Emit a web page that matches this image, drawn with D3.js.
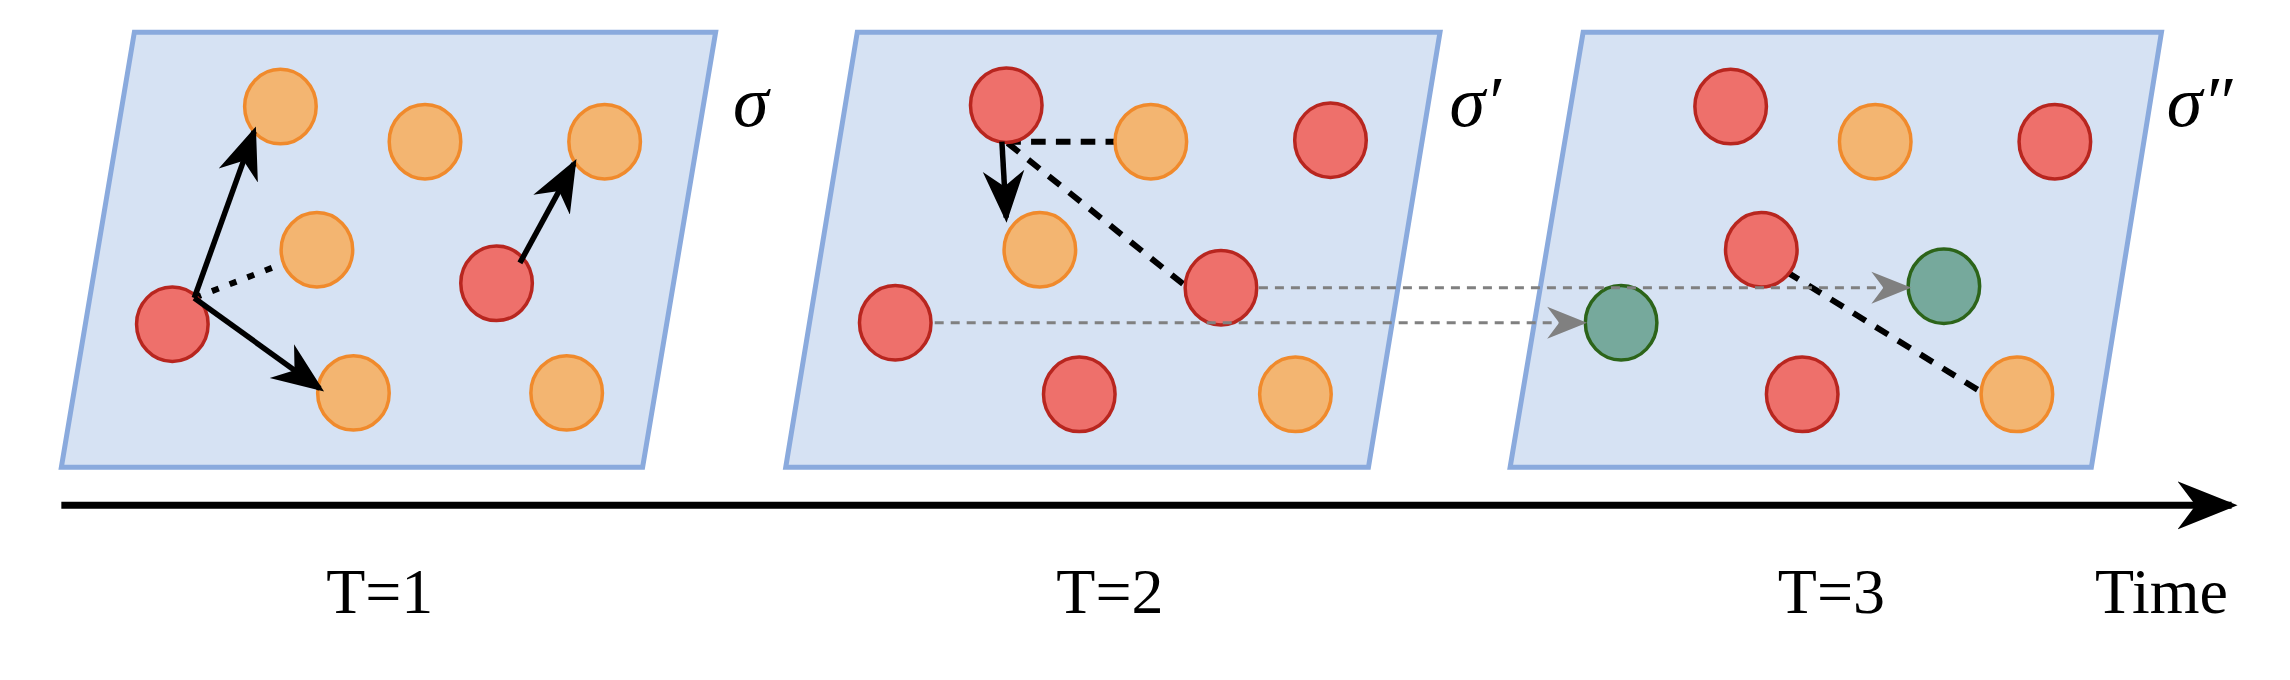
<!DOCTYPE html>
<html><head><meta charset="utf-8">
<script src="https://cdn.jsdelivr.net/npm/d3@7"></script>
<style>body{margin:0;background:#fff}</style></head>
<body><svg id="c" width="2290" height="680"></svg>
<script>
// coordinates in reference units (1568 x 466 space)
const panels = [
  [[92,22],[490,22],[440,320],[42,320]],
  [[587,22],[986,22],[937,320],[538,320]],
  [[1084,22],[1480,22],[1432,320],[1034,320]]
];
const nodes = [
  {x:192,y:73,t:"o"},{x:291,y:97,t:"o"},{x:414,y:97,t:"o"},{x:217,y:171,t:"o"},{x:242,y:269,t:"o"},{x:388,y:269,t:"o"},
  {x:118,y:222,t:"r"},{x:340,y:194,t:"r"},
  {x:689,y:72,t:"r"},{x:911,y:96,t:"r"},{x:836,y:197,t:"r"},{x:613,y:221,t:"r"},{x:739,y:270,t:"r"},
  {x:788,y:97,t:"o"},{x:712,y:171,t:"o"},{x:887,y:270,t:"o"},
  {x:1185,y:73,t:"r"},{x:1206,y:171,t:"r"},{x:1234,y:270,t:"r"},{x:1407,y:97,t:"r"},
  {x:1284,y:97,t:"o"},{x:1381,y:270,t:"o"},
  {x:1110,y:221,t:"g"},{x:1331,y:196,t:"g"}
];
const solidArrows = [[133,204,174,90],[133,204,219,266],[356,180,393,112],[686,97,689,149]];
const dashLinks = [[133,204,195,180,"5,8"],[689,97,765,97,"10,7"],[690,98,812,196,"10,8"],[1223,186,1356,268,"10,8"]];
const greyArrows = [[640,221,1084,221],[862,197,1306,197]];
const timeLabels = [{x:260,t:"T=1"},{x:760,t:"T=2"},{x:1254,t:"T=3"},{x:1480,t:"Time"}];
const sigmas = [{x:514,y:72,t:"σ"},{x:1010,y:72,t:"σ′"},{x:1506,y:72,t:"σ″"}];
const colors = {o:["#f3b571","#f08a2c"], r:["#ee706b","#b8261f"], g:["#76a99c","#2c6419"]};

const sx = d3.scaleLinear().domain([0,1568]).range([0,2290]);
const sy = d3.scaleLinear().domain([0,466]).range([0,680.6]);
const svg = d3.select("#c");
const defs = svg.append("defs");
function mk(id, size, col){
  defs.append("marker").attr("id",id).attr("viewBox","0 0 10 10").attr("refX",9).attr("refY",5)
    .attr("markerUnits","userSpaceOnUse").attr("orient","auto").attr("markerWidth",size).attr("markerHeight",size)
    .append("path").attr("d","M0,1 L10,5 L0,9 L3,5 z").attr("fill",col);
}
mk("ab",52,"#000"); mk("ag",40,"#808080"); mk("at",60,"#000");

const line = d3.line().x(d=>sx(d[0])).y(d=>sy(d[1]));
svg.selectAll(".panel").data(panels).join("path").attr("d",d=>line(d)+"Z")
  .attr("fill","#d6e2f3").attr("stroke","#8aaadd").attr("stroke-width",5);

svg.selectAll(".dl").data(dashLinks).join("line")
  .attr("x1",d=>sx(d[0])).attr("y1",d=>sy(d[1])).attr("x2",d=>sx(d[2])).attr("y2",d=>sy(d[3]))
  .attr("stroke","#000").attr("stroke-width",6).attr("stroke-dasharray",d=>d[4].split(",").map(v=>v*1.46).join(","));

svg.selectAll(".nd").data(nodes).join("ellipse")
  .attr("cx",d=>sx(d.x)).attr("cy",d=>sy(d.y)).attr("rx",sx(24.5)).attr("ry",sy(25.5))
  .attr("fill",d=>colors[d.t][0]).attr("stroke",d=>colors[d.t][1]).attr("stroke-width",3.5);

svg.selectAll(".ga").data(greyArrows).join("line")
  .attr("x1",d=>sx(d[0])).attr("y1",d=>sy(d[1])).attr("x2",d=>sx(d[2])).attr("y2",d=>sy(d[3]))
  .attr("stroke","#808080").attr("stroke-width",3).attr("stroke-dasharray","9,7").attr("marker-end","url(#ag)");

svg.selectAll(".sa").data(solidArrows).join("line")
  .attr("x1",d=>sx(d[0])).attr("y1",d=>sy(d[1])).attr("x2",d=>sx(d[2])).attr("y2",d=>sy(d[3]))
  .attr("stroke","#000").attr("stroke-width",5.5).attr("marker-end","url(#ab)");

svg.append("line").attr("x1",sx(42)).attr("y1",sy(346)).attr("x2",sx(1528)).attr("y2",sy(346))
  .attr("stroke","#000").attr("stroke-width",7).attr("marker-end","url(#at)");

svg.selectAll(".tl").data(timeLabels).join("text")
  .attr("x",d=>sx(d.x)).attr("y",sy(420)).attr("text-anchor","middle")
  .attr("font-family","Liberation Serif, serif").attr("font-size",64).text(d=>d.t);
svg.selectAll(".sg").data(sigmas).join("text")
  .attr("x",d=>sx(d.x)).attr("y",d=>sy(d.y+14)).attr("text-anchor","middle")
  .attr("font-family","Liberation Serif, serif").attr("font-style","italic").attr("font-size",72).text(d=>d.t);
</script></body></html>
